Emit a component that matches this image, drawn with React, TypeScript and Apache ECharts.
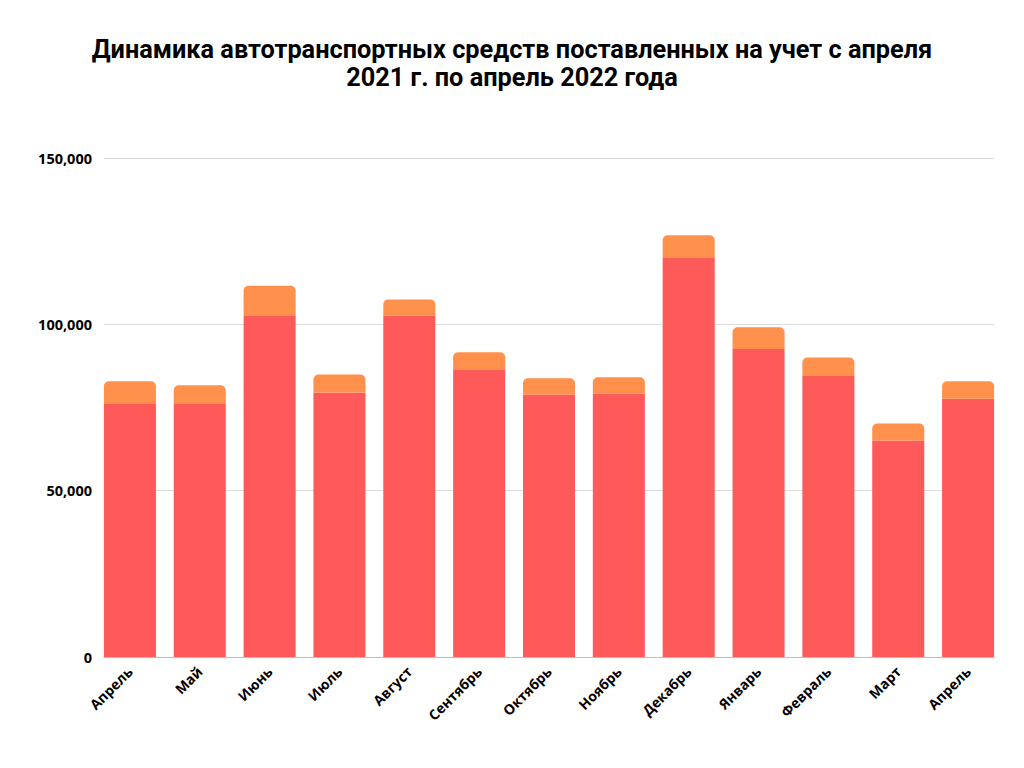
import React, { useEffect, useRef } from "react";
import * as echarts from "echarts";

const categories = ["Апрель", "Май", "Июнь", "Июль", "Август", "Сентябрь", "Октябрь", "Ноябрь", "Декабрь", "Январь", "Февраль", "Март", "Апрель"];
const redValues = [76300, 76300, 102500, 79500, 102600, 86300, 78900, 79200, 120200, 92600, 84500, 65100, 77600];
const orangeValues = [6600, 5400, 9100, 5400, 4900, 5300, 4900, 4900, 6600, 6500, 5500, 5100, 5300];
const yMin = 0;
const yMax = 150000;
const yInterval = 50000;
const titleText = "Динамика автотранспортных средств поставленных на учет с апреля\n2021 г. по апрель 2022 года";

const fmt = (v: number) => v.toLocaleString("en-US");

export default function App() {
  const ref = useRef<HTMLDivElement>(null);
  useEffect(() => {
    if (!ref.current) return;
    const chart = echarts.init(ref.current, null, { renderer: "svg" });
    chart.setOption({
      animation: false,
      backgroundColor: "#ffffff",
      title: {
        text: titleText,
        left: "center",
        top: 30,
        textStyle: {
          fontFamily: "Roboto",
          fontWeight: "bold",
          fontSize: 25.3,
          lineHeight: 28,
          color: "#000000",
        },
      },
      grid: [
        { left: 104, right: 30, top: 158, bottom: 111 },
        { left: 95, right: 21, top: 158, bottom: 111 },
      ],
      xAxis: [
        {
          type: "value",
          gridIndex: 0,
          min: 0,
          max: 1,
          axisLine: { show: true, lineStyle: { color: "#bdbdbd", width: 1 } },
          axisTick: { show: false },
          axisLabel: { show: false },
          splitLine: { show: false },
        },
        {
          type: "category",
          gridIndex: 1,
          data: categories,
          axisLine: { show: false },
          axisTick: { show: false },
          axisLabel: {
            rotate: 45,
            interval: 0,
            margin: 12,
            fontFamily: "Open Sans",
            fontWeight: "bold",
            fontSize: 14,
            color: "#000000",
          },
        },
      ],
      yAxis: [
        {
          type: "value",
          gridIndex: 0,
          min: yMin,
          max: yMax,
          interval: yInterval,
          axisLine: { show: false },
          axisTick: { show: false },
          axisLabel: {
            margin: 12,
            formatter: (v: number) => fmt(v),
            fontFamily: "Open Sans",
            fontWeight: "bold",
            fontSize: 14.5,
            color: "#000000",
          },
          splitLine: { show: true, lineStyle: { color: "#dcdcdc", width: 1 } },
        },
        {
          type: "value",
          gridIndex: 1,
          min: yMin,
          max: yMax,
          interval: yInterval,
          axisLine: { show: false },
          axisTick: { show: false },
          axisLabel: { show: false },
          splitLine: { show: false },
        },
      ],
      series: [
        {
          type: "bar",
          xAxisIndex: 1,
          yAxisIndex: 1,
          stack: "total",
          data: redValues,
          barCategoryGap: "25.5%",
          itemStyle: { color: "#ff5a5a" },
        },
        {
          type: "bar",
          xAxisIndex: 1,
          yAxisIndex: 1,
          stack: "total",
          data: orangeValues,
          barCategoryGap: "25.5%",
          itemStyle: { color: "#ff914d", borderRadius: [5, 5, 0, 0] },
        },
      ],
    });
    return () => chart.dispose();
  }, []);
  return <div ref={ref} style={{ width: 1024, height: 768, margin: -8 }} />;
}
